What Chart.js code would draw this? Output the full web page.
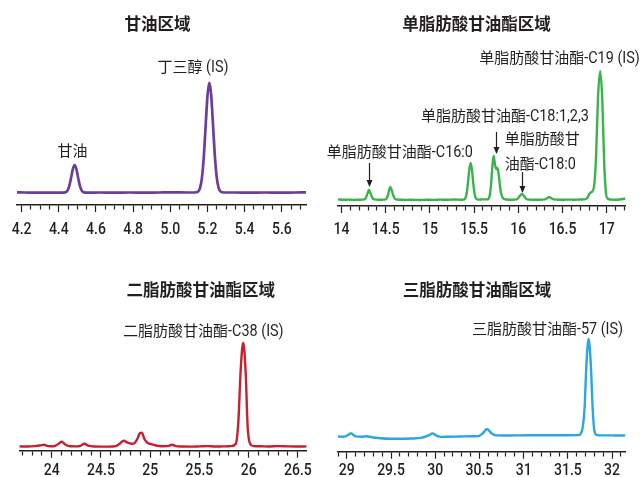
<!DOCTYPE html>
<html>
<head>
<meta charset="utf-8">
<script src="https://cdn.jsdelivr.net/npm/chart.js@4.4.1/dist/chart.umd.min.js"></script>
<style>
  html, body { margin: 0; padding: 0; background: #fff; }
  #wrap { position: relative; width: 644px; height: 477px; overflow: hidden; }
  #wrap canvas { position: absolute; }
  .ttl {
    position: absolute; white-space: nowrap; line-height: 1;
    font: bold 16.5px "Noto Sans CJK SC", sans-serif; color: #231f20;
    transform: translate(-50%, -50%);
  }
</style>
</head>
<body>
<div id="wrap">
  <canvas id="cGly" width="322" height="240" style="left:0;top:0"></canvas>
  <canvas id="cMono" width="322" height="240" style="left:322px;top:0"></canvas>
  <canvas id="cDi" width="322" height="237" style="left:0;top:240px"></canvas>
  <canvas id="cTri" width="322" height="237" style="left:322px;top:240px"></canvas>
  <div class="ttl" style="left:157.5px;top:22.7px">甘油区域</div>
  <div class="ttl" style="left:476.5px;top:22.7px">单脂肪酸甘油酯区域</div>
  <div class="ttl" style="left:200.8px;top:289.3px">二脂肪酸甘油酯区域</div>
  <div class="ttl" style="left:477px;top:289.3px">三脂肪酸甘油酯区域</div>
</div>
<script>
// Retention time (min) and detector signal for each chromatogram window.

// Glycerol window
const glyTime = [4.175, 4.22, 4.28, 4.34, 4.40,
  4.435, 4.445, 4.455, 4.465, 4.475, 4.485, 4.495, 4.505, 4.515, 4.525, 4.535,
  4.56, 4.62, 4.70, 4.78, 4.86, 4.94, 5.02, 5.09, 5.13,
  5.15, 5.16, 5.17, 5.18, 5.19, 5.2, 5.21, 5.22, 5.23, 5.24, 5.25, 5.26, 5.27,
  5.29, 5.35, 5.43, 5.51, 5.59, 5.67, 5.73];
const glySignal = [0.3, 0.2, 0.1, 0.2, 0.1,
  0.4, 1.7, 5.8, 13.9, 23.3, 27.7, 23.3, 13.9, 5.8, 1.7, 0.4,
  0.1, 0.2, 0.1, 0.2, 0.1, 0.2, 0.3, 0.2, 0.2,
  1.2, 4.8, 14.9, 35.7, 66.7, 97, 110, 97, 66.7, 35.7, 14.9, 4.8, 1.2,
  0.2, 0.2, 0.1, 0.2, 0.1, 0.2, 0.3];
const glyTicks = [4.2, 4.4, 4.6, 4.8, 5.0, 5.2, 5.4, 5.6];
const glyTickLabels = ['4.2', '4.4', '4.6', '4.8', '5.0', '5.2', '5.4', '5.6'];

// Monoglyceride window
const monoTime = [13.96, 14.02, 14.08, 14.14, 14.2,
  14.26, 14.275, 14.29, 14.3, 14.31, 14.32, 14.335, 14.35, 14.37,
  14.42, 14.47,
  14.5, 14.515, 14.53, 14.54, 14.552, 14.565, 14.58, 14.595, 14.615,
  14.66, 14.73, 14.8, 14.88, 14.96, 15.04, 15.12, 15.2, 15.28, 15.35,
  15.38, 15.40, 15.415, 15.43, 15.445, 15.46, 15.475, 15.49, 15.505, 15.52, 15.545,
  15.6, 15.64,
  15.66, 15.675, 15.69, 15.705, 15.72, 15.735, 15.75, 15.765, 15.78, 15.795, 15.81, 15.83,
  15.87, 15.93, 15.98,
  16.0, 16.02, 16.04, 16.06, 16.08, 16.1,
  16.16, 16.24,
  16.3, 16.33, 16.35, 16.37, 16.4,
  16.47, 16.55, 16.63, 16.7, 16.75,
  16.78, 16.81, 16.84, 16.86, 16.88, 16.9, 16.925, 16.95, 16.97, 16.99, 17.01,
  17.05, 17.12, 17.21];
const monoSignal = [0.6, 0.2, 0.4, 0.1, 0.3,
  0.6, 2.2, 5.4, 8, 10, 8.5, 5, 2, 0.6,
  0.2, 0.4,
  0.6, 2.5, 6.5, 10.5, 13, 10.5, 6, 2.3, 0.6,
  0.3, 0.1, 0.3, 0, 0.3, 0.1, 0.4, 0.2, 0.5, 0.3,
  0.4, 1.6, 6.4, 17, 30.4, 37, 30.4, 17, 6.4, 1.6, 0.4,
  0.6, 0.6,
  1, 4, 14, 32, 44, 36, 31, 32, 24, 12, 5, 1.5,
  0.5, 0.3, 0.6,
  2, 4.5, 6, 4.5, 2, 0.6,
  0.2, 0.2,
  0.6, 2, 3, 2, 0.6,
  0.2, 0.4, 0.3, 0.5, 0.6,
  2, 7, 9, 16, 45, 100, 129, 100, 40, 8, 1.5,
  0.4, 0.2, 1.5];
const monoTicks = [14, 14.5, 15, 15.5, 16, 16.5, 17];
const monoTickLabels = ['14', '14.5', '15', '15.5', '16', '16.5', '17'];

// Diglyceride window
const diTime = [23.67, 23.75, 23.83, 23.88, 23.92, 23.96, 24.02, 24.07, 24.1, 24.14,
  24.19, 24.25, 24.29, 24.33, 24.37, 24.43, 24.5, 24.58, 24.65, 24.69,
  24.73, 24.77, 24.81, 24.84, 24.87, 24.895, 24.915, 24.94, 24.97, 25.01,
  25.06, 25.12, 25.18, 25.22, 25.26, 25.33, 25.42, 25.5, 25.58, 25.66,
  25.74, 25.82, 25.87, 25.895, 25.92, 25.945, 25.97, 25.99, 26.015, 26.05,
  26.12, 26.2, 26.3, 26.4, 26.5, 26.59];
const diSignal = [0.3, 0.2, 0.6, 1.2, 2, 0.6, 0.4, 3, 5, 2,
  0.4, 0.3, 0.8, 3, 1, 0.2, 0.1, 0.1, 0.6, 3,
  6, 4, 3, 3.5, 8, 13.5, 14, 8, 4, 2.5,
  1.2, 0.5, 0.6, 2, 0.6, 0.2, 0.1, 0.3, 0.6, 0.2,
  0.3, 0.6, 3, 24, 78, 104, 74, 20, 3, 0.6,
  0.4, 0.2, 0.6, 0.3, 0.2, 0.3];
const diTicks = [24, 24.5, 25, 25.5, 26, 26.5];
const diTickLabels = ['24', '24.5', '25', '25.5', '26', '26.5'];

// Triglyceride window
const triTime = [28.9, 28.96, 29.01, 29.035, 29.05, 29.07, 29.1, 29.17, 29.22, 29.28,
  29.38, 29.48, 29.6, 29.72, 29.84, 29.92, 29.97, 30.01, 30.06, 30.15,
  30.28, 30.4, 30.49, 30.535, 30.585, 30.635, 30.69, 30.78, 30.9, 31.05,
  31.2, 31.35, 31.5, 31.62, 31.66, 31.69, 31.71, 31.735, 31.76, 31.78,
  31.8, 31.83, 31.9, 32.0, 32.08, 32.15];
const triSignal = [0.2, 0, 1.5, 3, 3.3, 2, 0.3, 0, 0.5, -0.5,
  -1.5, -2, -2, -1.8, -1.2, 1, 3.3, 1.2, -0.2, 0,
  0.2, 0.4, 0.6, 3, 7.7, 3.5, 1.3, 1.2, 1.3, 1.4,
  1.4, 1.5, 1.5, 1.6, 6, 30, 72, 97.7, 72, 30,
  6, 1.6, 1.3, 1.3, 1.2, 1.3];
const triTicks = [29, 29.5, 30, 30.5, 31, 31.5, 32];
const triTickLabels = ['29', '29.5', '30', '30.5', '31', '31.5', '32'];

const INK = '#231f20';
const CJK_FONT = '15px "Noto Sans CJK SC", sans-serif';
const LATIN_FONT = '16px Roboto, "Noto Sans", sans-serif';
const TICK_FONT = '500 16.5px Roboto, "Noto Sans", sans-serif';
const NOTE_NARROW = 0.9;        // horizontal squeeze for Latin runs in peak names
const TICK_NARROW = 0.85;       // horizontal squeeze for axis numbers
const IS_CJK = /[\u2e80-\u9fff\uff00-\uffef]/;

// Draws mixed Chinese / Latin text with the Latin runs condensed.
function drawMixed(ctx, text, x, yMid, align) {
  const runs = text.match(/[\u2e80-\u9fff\uff00-\uffef]+|[^\u2e80-\u9fff\uff00-\uffef]+/g) || [];
  const parts = runs.map(r => {
    const cjk = IS_CJK.test(r);
    ctx.font = cjk ? CJK_FONT : LATIN_FONT;
    return { r, cjk, w: ctx.measureText(r).width * (cjk ? 1 : NOTE_NARROW) };
  });
  const total = parts.reduce((s, p) => s + p.w, 0);
  let cx = align === 'left' ? x : x - total / 2;
  const base = yMid + 5.6;
  parts.forEach(p => {
    ctx.font = p.cjk ? CJK_FONT : LATIN_FONT;
    ctx.save();
    ctx.translate(cx, base);
    ctx.scale(p.cjk ? 1 : NOTE_NARROW, 1);
    ctx.fillText(p.r, 0, 0);
    ctx.restore();
    cx += p.w;
  });
}

// Peak names, arrows and condensed axis numbers.
const peakNotes = {
  id: 'peakNotes',
  afterDraw(chart, args, opts) {
    const { ctx } = chart;
    const xs = chart.scales.x, ys = chart.scales.y;
    ctx.save();
    ctx.fillStyle = INK;
    ctx.strokeStyle = INK;
    ctx.textAlign = 'left';
    ctx.textBaseline = 'alphabetic';
    (opts.notes || []).forEach(n => {
      drawMixed(ctx, n.text, xs.getPixelForValue(n.x), ys.getPixelForValue(n.y), n.align);
    });
    (opts.arrows || []).forEach(a => {
      const px = Math.round(xs.getPixelForValue(a.x)) + 0.5;
      const y1 = ys.getPixelForValue(a.from), y2 = ys.getPixelForValue(a.to);
      ctx.lineWidth = 1.2;
      ctx.beginPath(); ctx.moveTo(px, y1); ctx.lineTo(px, y2 - 5); ctx.stroke();
      ctx.beginPath(); ctx.moveTo(px, y2); ctx.lineTo(px - 3, y2 - 7); ctx.lineTo(px + 3, y2 - 7);
      ctx.closePath(); ctx.fill();
    });
    // axis numbers at the major tick positions of the x scale
    ctx.font = TICK_FONT;
    ctx.textAlign = 'center';
    xs.ticks.forEach(t => {
      const i = opts.tickValues.findIndex(m => Math.abs(m - t.value) < 1e-6);
      if (i < 0) return;
      ctx.save();
      ctx.translate(xs.getPixelForValue(t.value), xs.top + opts.labelDy + 5.9);
      ctx.scale(TICK_NARROW, 1);
      ctx.fillText(opts.tickLabels[i], 0, 0);
      ctx.restore();
    });
    ctx.restore();
  }
};

function makePanel(id, p) {
  const isMajor = v => p.ticks.some(m => Math.abs(m - v) < 1e-6);
  return new Chart(document.getElementById(id), {
    type: 'line',
    data: {
      datasets: [{
        data: p.time.map((t, i) => ({ x: t, y: p.signal[i] })),
        borderColor: p.color,
        borderWidth: p.lineWidth,
        pointRadius: 0,
        cubicInterpolationMode: 'monotone',
        fill: false
      }]
    },
    options: {
      responsive: false,
      animation: false,
      devicePixelRatio: 1,
      events: [],
      layout: { padding: { left: p.left, right: p.right, top: p.top, bottom: 0 } },
      scales: {
        x: {
          type: 'linear',
          min: p.min, max: p.max,
          afterFit: s => { s.height = p.axisH; },
          border: { display: true, color: INK, width: 1.5 },
          grid: {
            display: true, drawOnChartArea: false, drawTicks: true,
            tickLength: 7, tickWidth: 1.2, tickColor: INK,
            tickBorderDash: c => (c.tick && isMajor(c.tick.value)) ? [] : [4, 30]
          },
          ticks: {
            display: false,
            stepSize: p.step, autoSkip: false, maxRotation: 0, minRotation: 0,
            includeBounds: false, maxTicksLimit: 1000
          }
        },
        y: { display: false, min: p.ymin, max: p.ymax }
      },
      plugins: {
        legend: { display: false },
        tooltip: { enabled: false },
        peakNotes: {
          notes: p.notes, arrows: p.arrows || [],
          tickValues: p.ticks, tickLabels: p.tickLabels, labelDy: p.labelDy
        }
      }
    },
    plugins: [peakNotes]
  });
}

makePanel('cGly', {
  time: glyTime, signal: glySignal, ticks: glyTicks, tickLabels: glyTickLabels,
  color: '#6b3d9d', lineWidth: 2.7,
  min: 4.175, max: 5.73, step: 0.05, ymin: -12.3, ymax: 152.7,
  left: 17, right: 16, top: 40, axisH: 35, labelDy: 22.7,
  notes: [
    { text: '甘油', x: 4.474, y: 42 },
    { text: '丁三醇 (IS)', x: 5.122, y: 126 }
  ]
});

makePanel('cMono', {
  time: monoTime, signal: monoSignal, ticks: monoTicks, tickLabels: monoTickLabels,
  color: '#38b44a', lineWidth: 2.4,
  min: 13.96, max: 17.21, step: 0.1, ymin: -6, ymax: 160,
  left: 16, right: 18.7, top: 40, axisH: 34, labelDy: 21.7,
  notes: [
    { text: '单脂肪酸甘油酯-C19 (IS)', x: 16.466, y: 143 },
    { text: '单脂肪酸甘油酯-C18:1,2,3', x: 15.848, y: 85 },
    { text: '单脂肪酸甘', x: 15.846, y: 62, align: 'left' },
    { text: '油酯-C18:0', x: 15.846, y: 37, align: 'left' },
    { text: '单脂肪酸甘油酯-C16:0', x: 14.66, y: 48.3 }
  ],
  arrows: [
    { x: 14.307, from: 37, to: 13 },
    { x: 15.747, from: 68, to: 46 },
    { x: 16.041, from: 28, to: 7 }
  ]
});

makePanel('cDi', {
  time: diTime, signal: diSignal, ticks: diTicks, tickLabels: diTickLabels,
  color: '#c8202f', lineWidth: 2.4,
  min: 23.67, max: 26.59, step: 0.1, ymin: -4, ymax: 146.7,
  left: 19.3, right: 15.3, top: 60, axisH: 26.3, labelDy: 18.6,
  notes: [
    { text: '二脂肪酸甘油酯-C38 (IS)', x: 25.54, y: 116 }
  ]
});

makePanel('cTri', {
  time: triTime, signal: triSignal, ticks: triTicks, tickLabels: triTickLabels,
  color: '#2ca6df', lineWidth: 2.4,
  min: 28.9, max: 32.15, step: 0.1, ymin: -15, ymax: 136.7,
  left: 16, right: 18.7, top: 60, axisH: 25.3, labelDy: 17.6,
  notes: [
    { text: '三脂肪酸甘油酯-57 (IS)', x: 31.27, y: 108.4 }
  ]
});
</script>
</body>
</html>
